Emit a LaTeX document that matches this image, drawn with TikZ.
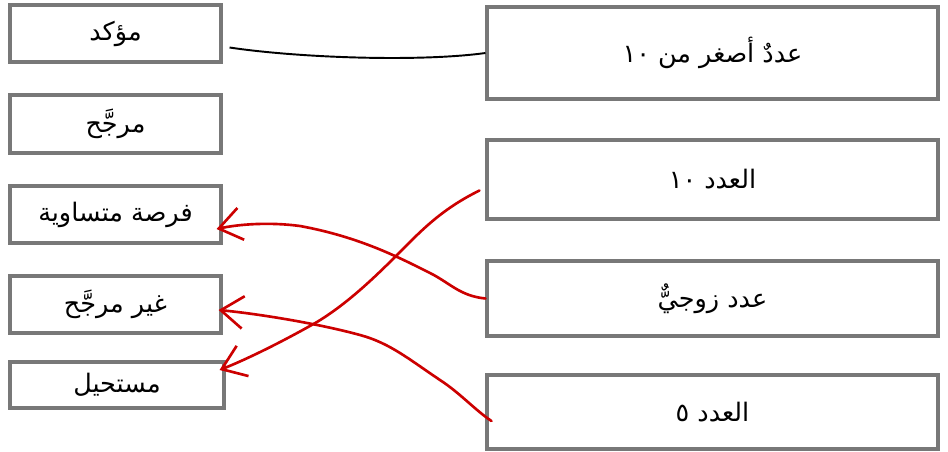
\documentclass[tikz,border=0pt]{standalone}
\usepackage{fontspec}
\usetikzlibrary{arrows.meta,calc}
\TeXXeTstate=1
\newfontfamily\arabicfont[Script=Arabic]{DejaVu Sans}
\definecolor{boxgray}{RGB}{120,120,120}
\definecolor{penred}{RGB}{204,0,0}
\tikzset{
  box/.style={draw=boxgray,line width=1.8pt,fill=white,inner sep=0pt,
    font=\arabicfont\fontsize{14.5}{17}\selectfont},
  pen/.style={draw=penred,line width=1.5pt,line cap=round,
    -{Straight Barb[length=4.5mm,width=6.5mm,line width=1.5pt]}}
}
\newcommand{\ar}[1]{\beginR #1\endR}

\begin{document}
\begin{tikzpicture}[x=0.02cm,y=-0.02cm]
  \useasboundingbox (0,0) rectangle (948,451);
  % left column
  \node[box,minimum width=4.22cm,minimum height=1.14cm] (l1) at (115.5,33.5) {\ar{مؤكد}};
  \node[box,minimum width=4.22cm,minimum height=1.16cm] (l2) at (115.5,124) {\ar{مرجَّح}};
  \node[box,minimum width=4.22cm,minimum height=1.14cm] (l3) at (115.5,214.5) {\ar{فرصة متساوية}};
  \node[box,minimum width=4.22cm,minimum height=1.14cm] (l4) at (115.5,304.5) {\ar{غير مرجَّح}};
  \node[box,minimum width=4.28cm,minimum height=0.92cm] (l5) at (117,385) {\ar{مستحيل}};
  % right column
  \node[box,minimum width=9.02cm,minimum height=1.84cm] (r1) at (712.5,53) {\ar{عددٌ أصغر من ١٠}};
  \node[box,minimum width=9.02cm,minimum height=1.58cm] (r2) at (712.5,179.5) {\ar{العدد ١٠}};
  \node[box,minimum width=9.02cm,minimum height=1.50cm] (r3) at (712.5,298.5) {\ar{عدد زوجيٌّ}};
  \node[box,minimum width=9.02cm,minimum height=1.48cm] (r4) at (712.5,412) {\ar{العدد ٥}};
  % matching lines
  \draw[line width=1.1pt] ($(l1.east)+(7,14)$) .. controls (300,58) and (420,62) .. (r1.west);
  \draw[pen] ($(r2.west)+(-6,11)$) .. controls (440,210) and (420,232) .. (397,255)
    .. controls (370,282) and (345,305) .. (317,322)
    .. controls (280,343) and (245,360) .. ($(l5.east)+(-6,-15)$);
  \draw[pen] (r3.west) .. controls (460,296) and (450,283) .. (430,273)
    .. controls (400,258) and (360,237) .. (300,226)
    .. controls (270,222) and (240,224) .. ($(l3.east)+(-6,14.5)$);
  \draw[pen] ($(r4.west)+(6,9)$) .. controls (475,410) and (460,393) .. (440,380)
    .. controls (410,360) and (390,343) .. (360,335)
    .. controls (320,324) and (260,314) .. ($(l4.east)+(-4,5.5)$);
\end{tikzpicture}
\end{document}
